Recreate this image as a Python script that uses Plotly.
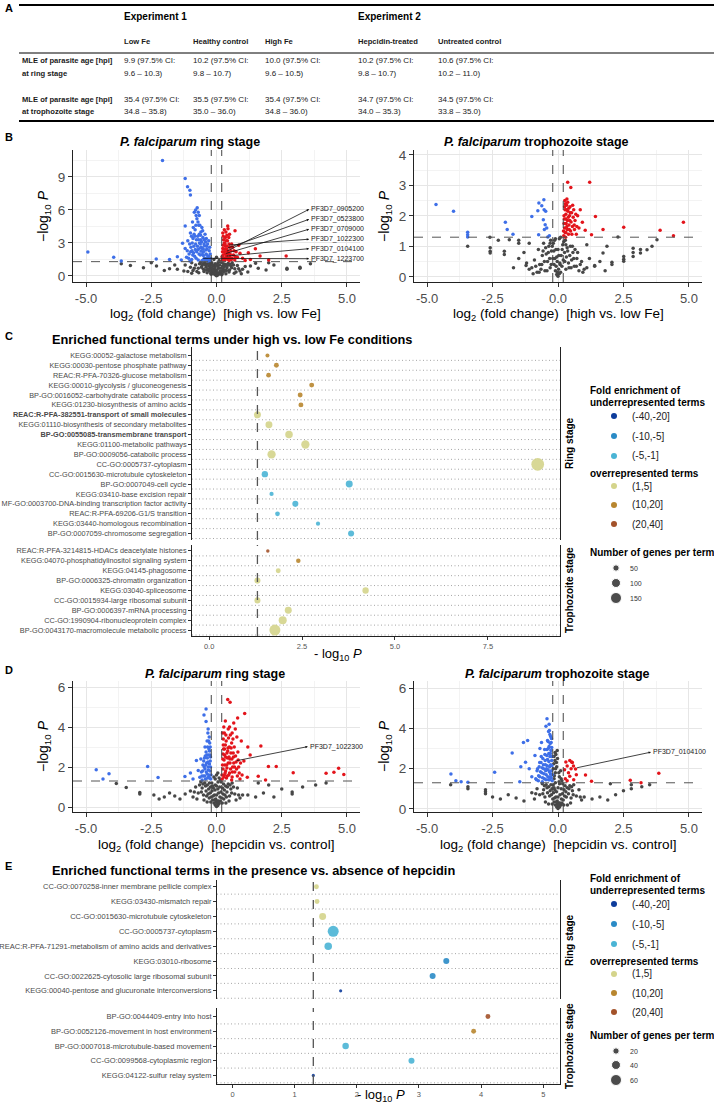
import plotly.graph_objects as go

W, H = 714, 1103
FONT = "Liberation Sans, Arial, Helvetica, sans-serif"

# ---------------- Panel A data ----------------
experiments = ["Experiment 1", "Experiment 2"]
conditions = ["Low Fe", "Healthy control", "High Fe", "Hepcidin-treated", "Untreated control"]
ring_mle = ["9.9", "10.2", "10.0", "10.2", "10.6"]
ring_ci = ["9.6 – 10.3", "9.8 – 10.7", "9.6 – 10.5", "9.8 – 10.7", "10.2 – 11.0"]
troph_mle = ["35.4", "35.5", "35.4", "34.7", "34.5"]
troph_ci = ["34.8 – 35.8", "35.0 – 36.0", "34.8 – 36.0", "34.0 – 35.3", "33.8 – 35.0"]

# ---------------- Volcano thresholds ----------------
FC_THRESH = 0.2
P_THRESH = 1.3

# ---------------- Panel B: Fe, ring stage ----------------
bring_blue = [(-0.25,1.4),(-0.3,1.8),(-0.28,2.3),(-0.35,1.5),(-0.4,2.0),(-0.38,2.7),(-0.45,1.6),(-0.42,3.1),
    (-0.5,2.2),(-0.48,2.9),(-0.55,1.4),(-0.52,3.5),(-0.58,2.6),(-0.6,4.0),(-0.62,1.9),(-0.65,3.0),(-0.68,4.6),
    (-0.7,2.4),(-0.72,3.6),(-0.75,5.2),(-0.78,1.6),(-0.8,2.9),(-0.82,4.2),(-0.85,5.8),(-0.88,2.1),(-0.9,3.4),
    (-0.92,4.9),(-0.95,1.5),(-0.98,2.6),(-1.0,3.9),(-1.05,2.0),(-1.1,3.2),(-1.15,1.7),(-1.2,2.5),(-0.32,1.35),
    (-0.36,2.45),(-0.44,3.8),(-0.56,4.4),(-0.66,5.5),(-0.74,6.2),(-0.8,6.0),(-0.6,3.3),(-0.7,1.45),(-0.86,3.8),
    (-0.94,2.3),(-1.02,1.35),(-0.5,1.85),(-0.4,1.55),(-0.62,2.9),(-0.76,2.2),(-0.66,3.8),(-0.54,2.5),(-0.84,1.8),
    (-0.22,1.6),(-0.24,2.0),(-0.26,2.6),(-0.3,3.2),(-0.33,1.7),(-0.34,2.9),(-0.37,1.9),(-0.39,3.4),(-0.41,2.35),
    (-0.43,1.45),(-0.46,2.75),(-0.47,3.3),(-0.49,1.55),(-0.51,2.45),(-0.53,4.1),(-0.54,1.95),(-0.57,3.1),
    (-0.59,2.25),(-0.61,3.7),(-0.63,2.55),(-0.64,4.6),(-0.67,2.0),(-0.69,3.3),(-0.71,4.9),(-0.73,2.7),(-0.77,3.3),
    (-0.79,4.6),(-0.81,2.4),(-0.83,3.6),(-0.87,2.7),(-0.89,4.4),(-0.91,1.9),(-0.93,3.0),(-0.96,3.6),(-0.99,2.2),
    (-1.03,2.9),(-1.07,1.6),(-1.12,2.3),(-0.7,5.8),(-0.78,5.5),
    (-2.07,10.5),(-1.2,8.85),(-1.11,8.1),(-1.02,7.8),(-1.0,7.36),(-1.2,4.55),(-1.3,2.97),(-2.31,1.55),
    (-3.94,1.7),(-4.93,2.18),(-3.65,1.36),(-1.8,1.5),(-1.5,1.75),(-1.35,1.45)]
bring_red = [(0.22,1.4),(0.25,1.9),(0.24,2.5),(0.28,1.6),(0.3,2.2),(0.3,3.0),(0.33,1.45),(0.35,2.7),(0.34,3.5),
    (0.38,1.8),(0.4,2.4),(0.42,3.2),(0.45,1.5),(0.46,2.0),(0.48,2.9),(0.5,3.8),(0.52,1.7),(0.55,2.3),(0.27,3.3),
    (0.36,4.0),(0.44,4.3),(0.6,1.6),(0.62,2.6),(0.65,1.9),(0.7,1.45),(0.75,2.2),(0.8,1.7),(0.26,1.65),(0.32,2.0),
    (0.39,2.25),(0.21,1.75),(0.23,2.2),(0.25,2.8),(0.26,3.6),(0.29,1.45),(0.31,2.45),(0.33,2.9),(0.35,1.6),
    (0.37,3.2),(0.39,1.95),(0.41,2.7),(0.43,1.65),(0.45,2.2),(0.47,3.5),(0.49,1.4),(0.51,2.6),(0.53,1.95),
    (0.57,1.5),(0.58,2.9),(0.67,2.3),(0.72,1.75),(0.24,3.9),(0.3,4.2),(0.4,3.7),
    (0.43,4.55),(0.71,4.12),(1.49,2.48),(2.67,1.82),(1.22,2.12),(1.67,1.82),(0.9,2.06),(1.0,1.6),
    (1.3,1.5),(2.0,1.45),(0.85,2.8),(1.1,1.4)]
bring_grey = [(0,0.02),(-0.05,0.1),(0.05,0.08),(-0.1,0.2),(0.1,0.18),(-0.15,0.35),(0.15,0.3),(-0.2,0.5),(0.2,0.45),
    (-0.25,0.7),(0.25,0.65),(-0.3,0.9),(0.3,0.85),(-0.35,1.1),(0.35,1.05),(-0.18,1.2),(0.18,1.25),(-0.08,0.6),
    (0.08,0.7),(-0.12,0.95),(0.12,1.0),(-0.4,0.8),(0.4,0.75),(-0.45,1.2),(0.45,1.15),(-0.5,0.6),(0.5,0.55),
    (-0.55,0.95),(0.55,0.9),(-0.6,1.25),(0.6,1.2),(-0.7,0.7),(0.7,0.65),(-0.8,1.0),(0.8,0.95),(-0.9,0.5),(0.9,0.45),
    (-0.03,0.4),(0.03,0.3),(-0.22,0.25),(0.22,0.2),(-0.28,0.45),(0.28,0.4),(-0.38,0.55),(0.38,0.5),(-0.05,1.1),
    (0.05,0.9),(-0.65,1.1),(0.65,1.0),(-0.75,0.4),(0.75,0.35),(-1.0,0.8),(1.0,0.6),(-1.1,0.4),(1.2,0.35),
    (-0.02,0.2),(0.02,0.15),(-0.07,0.3),(0.07,0.25),(-0.13,0.5),(0.13,0.45),(-0.17,0.75),(0.17,0.7),(-0.23,0.95),
    (0.23,0.9),(-0.27,1.15),(0.27,1.1),(-0.15,1.0),(0.15,1.3),(-0.32,0.6),(0.32,0.55),(-0.42,1.0),(0.42,0.95),
    (-0.48,0.4),(0.48,0.35),(-0.58,0.8),(0.58,0.75),(-0.68,0.3),(0.68,0.25),(-0.85,0.7),(0.85,0.65),(-0.06,0.8),
    (0.06,1.2),(-0.2,0.15),(0.2,0.1),(-0.36,0.3),(0.36,0.2),(0.0,0.55),(0.0,1.0),(-0.52,1.1),(0.52,1.05),
    (-1.2,1.0),(1.1,0.85),(-0.95,0.25),(0.95,0.2),
    (-0.1,1.5),(0.1,1.4),(0.0,1.7),(-3.65,1.1),(-3.3,0.95),(-2.8,0.75),(-2.3,0.9),(-2.0,0.5),(-1.8,0.65),
    (-1.5,0.6),(-1.25,0.45),(-1.6,1.0),(1.3,0.9),(1.6,0.7),(1.9,0.55),(2.2,1.0),(2.7,0.7),(3.2,0.8),(3.6,1.1),
    (2.0,1.2),(1.5,1.15),(-2.5,1.2),(-0.95,1.2),(3.2,0.7),(2.7,0.6)]
bring_labels = ["PF3D7_0905200", "PF3D7_0523800", "PF3D7_0709000", "PF3D7_1022300", "PF3D7_0104100", "PF3D7_1223700"]
bring_label_gene = [(0.35,2.2),(0.38,2.5),(0.3,2.0),(0.42,2.8),(0.33,1.8),(-0.57,1.6)]

# ---------------- Panel B: Fe, trophozoite stage ----------------
btro_blue = [(-4.66,2.37),(-3.99,2.15),(-3.45,1.46),(-3.45,1.38),(-3.45,1.31),(-2.01,1.79),(-1.94,1.55),
    (-1.72,1.40),(-1.0,1.98),(-0.77,2.17),(-0.73,2.42),(-0.62,2.33),(-0.53,2.20),(-0.54,2.53),(-0.47,2.15),
    (-0.56,1.87),(-0.49,1.71),(-0.43,1.60),(-0.52,1.55),(-0.33,1.35),(-0.39,1.31),(-0.74,1.38)]
btro_red = [(0.22,1.35),(0.25,1.6),(0.24,1.9),(0.27,2.2),(0.26,2.5),(0.3,1.45),(0.31,1.75),(0.3,2.05),(0.33,2.35),
    (0.35,1.55),(0.36,1.85),(0.38,2.15),(0.4,1.4),(0.42,1.7),(0.44,2.0),(0.46,2.3),(0.48,1.5),(0.5,1.8),(0.52,2.1),
    (0.55,1.65),(0.58,1.95),(0.6,2.2),(0.63,1.55),(0.28,2.4),(0.34,2.55),(0.65,1.85),(0.7,1.4),(0.75,2.0),(0.8,1.6),
    (0.23,2.0),(0.29,1.3),(0.21,1.5),(0.23,1.75),(0.25,2.3),(0.27,1.45),(0.29,1.9),(0.32,2.2),(0.34,1.65),
    (0.37,2.45),(0.39,1.95),(0.41,2.25),(0.43,1.55),(0.45,1.85),(0.47,2.1),(0.53,1.4),(0.56,2.35),(0.62,1.7),
    (0.68,2.05),(0.72,1.65),
    (0.37,3.1),(1.21,3.1),(0.49,2.93),(0.93,1.79),(1.43,1.98),(1.04,1.53),(1.72,1.55),
    (1.28,1.38),(2.51,1.63),(3.9,1.53),(4.79,1.79),(4.41,1.35),(0.85,2.2)]
btro_grey = [(0,0.02),(-0.05,0.08),(0.05,0.1),(-0.1,0.2),(0.1,0.15),(-0.15,0.4),(0.15,0.35),(-0.2,0.6),(0.2,0.55),
    (-0.25,0.85),(0.25,0.8),(-0.18,1.1),(0.18,1.05),(-0.1,1.25),(0.1,1.3),(-0.3,0.3),(0.3,0.25),(-0.4,0.5),(0.4,0.45),
    (-0.5,0.2),(0.5,0.3),(-0.6,0.7),(0.6,0.6),(-0.7,0.4),(0.7,0.35),(-0.8,0.15),(0.8,0.2),(-0.9,0.55),(0.9,0.5),
    (-1.0,0.3),(1.0,0.25),(-0.35,1.0),(0.35,0.95),(-0.45,0.75),(0.45,0.7),(-0.55,1.1),(0.55,1.0),(-0.65,0.25),
    (0.65,0.9),(-1.2,0.45),(1.2,0.6),(-1.3,0.8),(1.4,0.35),(-0.03,0.5),(0.03,0.7),(-0.08,0.9),(0.08,0.4),(-0.28,1.2),
    (0.28,1.2),(-0.75,0.9),(0.75,0.8),(-1.5,0.6),(1.6,0.5),(-1.1,1.1),(1.1,1.05),
    (-0.02,0.15),(0.02,0.25),(-0.07,0.35),(0.07,0.45),(-0.12,0.6),(0.12,0.7),(-0.16,0.85),(0.16,0.9),(-0.22,1.0),
    (0.22,1.15),(-0.13,1.2),(0.05,1.25),(-0.32,0.6),(0.32,0.65),(-0.42,0.2),(0.42,0.3),(-0.52,0.5),(0.52,0.55),
    (-0.62,0.4),(0.62,0.35),(-0.72,0.15),(0.72,0.6),(-0.85,0.35),(0.85,0.4),(-0.95,0.1),(0.95,0.15),(-1.1,0.25),
    (1.1,0.3),(-0.26,0.4),(0.26,0.5),(-0.37,0.8),(0.37,0.85),(-0.47,0.95),(0.47,1.0),(-0.57,0.85),(0.57,0.8),
    (-0.05,0.65),(0.0,0.9),(-0.3,1.1),(0.3,1.05),
    (-3.45,1.0),(-2.59,0.95),(-2.59,0.84),(-2.59,0.78),(-2.05,0.84),(-2.05,0.73),(-1.22,0.37),(1.4,0.37),
    (2.06,0.48),(2.06,0.4),(2.51,0.67),(2.51,0.58),(2.51,0.51),(2.87,0.94),(2.87,0.8),(2.87,0.67),(3.15,0.9),
    (3.15,0.78),(3.4,0.89),(3.59,1.0),(3.78,1.22),(2.29,1.31),(1.87,1.0),(1.72,0.78),(-2.28,1.2),(-1.86,1.22),
    (-1.5,1.2),(-1.5,1.1),(-2.6,1.3),(-1.7,0.3),(1.8,0.2)]

# ---------------- Panel D: hepcidin, ring stage ----------------
dring_blue = [(-0.22,1.4),(-0.25,1.8),(-0.24,2.3),(-0.27,2.8),(-0.26,3.2),(-0.3,1.5),(-0.32,2.0),(-0.31,2.6),
    (-0.34,3.0),(-0.36,1.65),(-0.38,2.2),(-0.4,2.75),(-0.42,1.4),(-0.44,1.9),(-0.46,2.45),(-0.5,1.55),(-0.52,2.1),
    (-0.55,1.35),(-0.58,1.75),(-0.6,2.4),(-0.28,3.5),(-0.4,4.27),(-0.48,4.6),(-0.4,4.9),(-0.33,3.7),(-0.29,1.6),
    (-0.35,2.45),(-0.23,2.0),(-0.25,2.6),(-0.21,1.6),(-0.23,2.5),(-0.24,3.0),(-0.26,1.45),(-0.27,2.15),
    (-0.29,2.9),(-0.3,3.3),(-0.31,1.85),(-0.33,2.25),(-0.34,1.45),(-0.37,2.6),(-0.39,1.75),(-0.41,2.1),
    (-0.43,2.55),(-0.45,1.55),(-0.47,2.0),(-0.49,2.3),(-0.53,1.8),(-0.56,1.55),(-0.32,3.9),(-0.36,3.3),(-0.44,3.0),
    (-4.61,1.86),(-4.12,1.66),(-4.35,1.4),(-2.64,2.03),(-2.24,1.47),
    (-1.21,1.52),(-0.77,2.33),(-0.7,1.83),(-0.64,1.49),(-0.9,1.4),(-1.0,1.7)]
dring_red = [(0.22,1.4),(0.25,1.9),(0.24,2.4),(0.27,2.9),(0.26,3.4),(0.3,1.6),(0.32,2.1),(0.31,2.6),(0.34,3.1),
    (0.36,3.6),(0.38,1.45),(0.4,1.95),(0.42,2.45),(0.44,2.95),(0.46,3.45),(0.5,1.7),(0.52,2.2),(0.55,2.7),(0.58,3.2),
    (0.6,1.5),(0.62,2.0),(0.65,2.5),(0.68,3.0),(0.7,1.75),(0.72,3.9),(0.75,2.25),(0.8,1.55),(0.82,2.75),(0.85,2.0),
    (0.9,1.4),(0.95,3.3),(0.28,4.0),(0.35,1.8),(0.48,2.5),(0.58,1.35),(0.66,2.2),(0.3,3.7),(0.4,2.7),(0.53,3.6),
    (0.78,3.5),(0.21,1.6),(0.23,2.1),(0.25,2.65),(0.26,3.1),(0.28,1.5),(0.29,2.35),(0.31,2.9),(0.33,1.7),
    (0.35,2.5),(0.37,3.3),(0.39,2.1),(0.41,1.55),(0.43,2.8),(0.45,2.2),(0.47,1.6),(0.49,3.0),(0.51,2.4),
    (0.54,1.9),(0.56,2.95),(0.59,2.4),(0.61,1.75),(0.63,3.4),(0.64,2.7),(0.69,2.0),(0.73,2.55),(0.77,1.9),
    (0.83,2.35),(0.87,1.7),(0.92,2.2),(0.98,1.6),(0.23,3.7),(0.34,4.3),(0.5,4.0),(0.6,3.7),(0.45,3.9),
    (0.43,5.37),(0.52,5.24),(1.08,4.67),(0.81,4.45),(0.66,4.2),(1.7,3.05),(1.29,2.6),(1.99,2.03),
    (2.29,2.03),(2.94,1.71),(4.2,1.69),(4.5,1.74),(4.68,1.94),(4.88,1.62),(1.18,1.49),(1.6,1.54),(1.88,1.35),
    (1.05,2.3),(1.2,3.0)]
dring_grey = [(0,0.02),(-0.05,0.1),(0.05,0.08),(-0.1,0.2),(0.1,0.18),(-0.15,0.35),(0.15,0.3),(-0.2,0.5),(0.2,0.45),
    (-0.25,0.7),(0.25,0.65),(-0.3,0.9),(0.3,0.85),(-0.35,1.1),(0.35,1.05),(-0.18,1.2),(0.18,1.25),(-0.08,0.6),
    (0.08,0.7),(-0.12,0.95),(0.12,1.0),(-0.4,0.8),(0.4,0.75),(-0.45,1.2),(0.45,1.15),(-0.5,0.6),(0.5,0.55),
    (-0.55,0.95),(0.55,0.9),(-0.6,1.25),(0.6,1.2),(-0.7,0.7),(0.7,0.65),(-0.8,1.0),(0.8,0.95),(-0.9,0.5),(0.9,0.45),
    (-0.03,0.4),(0.03,0.3),(-0.22,0.25),(0.22,0.2),(-0.28,0.45),(0.28,0.4),(-0.38,0.55),(0.38,0.5),(-0.05,1.1),
    (0.05,0.9),(-0.65,1.1),(0.65,1.0),(-0.75,0.4),(0.75,0.35),(-1.0,0.8),(1.0,0.6),(-0.1,1.5),(0.1,1.45),(0.0,1.6),
    (-0.02,0.25),(0.02,0.2),(-0.07,0.35),(0.07,0.3),(-0.13,0.55),(0.13,0.5),(-0.17,0.8),(0.17,0.75),(-0.23,1.0),
    (0.23,0.95),(-0.27,1.2),(0.27,1.15),(-0.15,1.05),(0.15,1.35),(-0.32,0.65),(0.32,0.6),(-0.42,1.05),(0.42,1.0),
    (-0.48,0.35),(0.48,0.3),(-0.58,0.75),(0.58,0.7),(-0.85,0.75),(0.85,0.6),(-0.06,0.85),(0.06,1.25),
    (-0.36,0.25),(0.36,0.2),(0.0,0.6),(0.0,1.05),(-0.52,1.15),(0.52,1.1),(-0.05,1.4),(0.05,1.7),
    (-3.84,1.18),(-3.46,0.98),(-2.94,0.73),(-2.94,0.65),(-2.4,0.6),(-2.2,0.4),(-2.0,0.5),(-1.8,0.7),(-1.6,0.55),
    (-1.4,0.4),(-1.2,0.65),(1.2,0.6),(1.5,0.5),(1.8,0.7),(2.2,0.5),(2.5,0.9),(2.9,0.75),(2.9,0.65),(3.3,1.0),
    (3.8,1.1),(4.2,1.2),(2.0,1.1),(1.6,1.2)]
dring_labels = ["PF3D7_1022300"]
dring_label_gene = [(0.71,2.3)]

# ---------------- Panel D: hepcidin, trophozoite stage ----------------
dtro_blue = [(-0.22,1.4),(-0.25,1.9),(-0.24,2.4),(-0.27,2.9),(-0.26,3.3),(-0.3,1.6),(-0.32,2.1),(-0.31,2.6),
    (-0.34,3.1),(-0.36,1.45),(-0.38,1.95),(-0.4,2.45),(-0.42,2.95),(-0.45,1.7),(-0.48,2.2),(-0.5,2.7),(-0.52,1.5),
    (-0.55,2.0),(-0.58,2.5),(-0.6,1.35),(-0.62,1.8),(-0.65,2.3),(-0.7,1.6),(-0.72,2.1),(-0.75,1.4),(-0.8,1.9),
    (-0.85,1.5),(-0.28,3.6),(-0.33,3.9),(-0.35,2.75),(-0.44,2.0),(-0.29,1.75),(-0.23,2.15),(-0.38,3.35),
    (-0.21,1.7),(-0.23,2.6),(-0.24,3.05),(-0.26,1.55),(-0.28,2.2),(-0.29,2.75),(-0.3,3.25),(-0.32,1.45),
    (-0.33,1.85),(-0.35,2.35),(-0.37,3.0),(-0.39,1.6),(-0.41,2.15),(-0.43,2.65),(-0.46,1.45),(-0.47,1.9),
    (-0.49,2.4),(-0.51,2.95),(-0.54,1.75),(-0.56,2.2),(-0.59,1.55),(-0.61,2.05),(-0.64,2.6),(-0.67,1.85),
    (-0.7,2.3),(-0.74,1.65),(-0.78,2.0),(-0.82,1.45),(-0.25,3.5),(-0.31,3.7),(-0.4,3.4),(-0.34,4.2),
    (-0.42,4.48),(-0.46,4.1),(-0.36,3.85),(-1.32,3.3),(-1.16,3.4),(-1.75,2.78),(-0.88,2.65),(-1.24,2.32),
    (-1.42,2.1),(-2.42,1.82),(-4.09,1.73),(-3.9,1.4),(-3.7,1.35),(-3.44,1.32),(-1.46,1.35),(-0.69,3.0),
    (-0.63,3.3),(-1.0,1.6),(-1.1,2.0)]
dtro_red = [(0.25,1.95),(0.3,2.33),(0.35,2.13),(0.4,1.8),(0.45,1.63),(0.28,1.5),(0.5,2.0),(0.55,2.3),(0.6,1.45),
    (0.67,1.98),(0.52,2.33),(0.59,2.13),(1.05,1.68),(1.28,1.38),(2.76,1.43),(3.17,1.3),(3.85,1.77),(0.35,1.4),
    (0.7,1.7),(0.45,2.4)]
dtro_grey = [(0,0.02),(-0.05,0.1),(0.05,0.08),(-0.1,0.2),(0.1,0.18),(-0.15,0.35),(0.15,0.3),(-0.2,0.5),(0.2,0.45),
    (-0.25,0.7),(0.25,0.65),(-0.3,0.9),(0.3,0.85),(-0.35,1.1),(0.35,1.05),(-0.18,1.2),(0.18,1.25),(-0.08,0.6),
    (0.08,0.7),(-0.12,0.95),(0.12,1.0),(-0.4,0.8),(0.4,0.75),(-0.45,1.2),(0.45,1.15),(-0.5,0.6),(0.5,0.55),
    (-0.55,0.95),(0.55,0.9),(-0.6,1.25),(0.6,1.2),(-0.7,0.7),(0.7,0.65),(-0.8,1.0),(0.8,0.95),(-0.9,0.5),(0.9,0.45),
    (-0.03,0.4),(0.03,0.3),(-0.22,0.25),(0.22,0.2),(-1.0,0.8),(1.0,0.6),(-0.15,1.5),(-0.1,1.8),(-0.05,2.1),
    (-0.12,2.4),(-0.08,2.7),(-0.03,2.9),(0.05,1.6),(0.1,1.9),(0.15,1.4),(-0.18,2.0),(0.12,1.5),(-0.15,2.6),
    (-0.06,2.3),(0.04,1.35),(-0.02,0.25),(0.02,0.2),(-0.07,0.35),(0.07,0.3),(-0.13,0.55),(0.13,0.5),(-0.17,0.8),
    (0.17,0.75),(-0.23,1.0),(0.23,0.95),(-0.27,1.2),(0.27,1.15),(-0.15,1.05),(-0.32,0.65),(0.32,0.6),
    (-0.42,1.05),(0.42,1.0),(-0.48,0.35),(0.48,0.3),(-0.58,0.75),(0.58,0.7),(-0.85,0.75),(0.85,0.6),
    (-0.06,0.85),(0.06,1.25),(-0.36,0.25),(0.36,0.2),(0.0,0.6),(0.0,1.05),(-0.52,1.15),(0.52,1.1),(-0.1,1.3),
    (-0.14,1.65),(-0.09,2.0),(0.03,1.8),(-0.02,2.5),(-0.16,2.25),(-0.11,2.8),
    (-2.77,0.95),(-2.77,0.85),(-2.77,0.75),(-2.5,0.6),(-2.2,0.5),(-1.9,0.7),(-1.6,0.55),
    (-1.3,0.4),(-3.44,1.1),(-3.44,1.0),(-4.1,1.2),(1.3,0.5),(1.6,0.6),(1.9,0.45),(2.2,0.7),(2.5,0.9),(2.8,1.0),
    (2.8,1.2),(3.2,1.1),(3.5,1.2),(2.0,1.25)]
dtro_labels = ["PF3D7_0104100"]
dtro_label_gene = [(0.67,2.03)]

# ---------------- Panel C: enrichment, high vs low Fe ----------------
c_ring_terms = ["KEGG:00052-galactose metabolism", "KEGG:00030-pentose phosphate pathway",
    "REAC:R-PFA-70326-glucose metabolism", "KEGG:00010-glycolysis / gluconeogenesis",
    "BP-GO:0016052-carbohydrate catabolic process", "KEGG:01230-biosynthesis of amino acids",
    "REAC:R-PFA-382551-transport of small molecules", "KEGG:01110-biosynthesis of secondary metabolites",
    "BP-GO:0055085-transmembrane transport", "KEGG:01100-metabolic pathways", "BP-GO:0009056-catabolic process",
    "CC-GO:0005737-cytoplasm", "CC-GO:0015630-microtubule cytoskeleton", "BP-GO:0007049-cell cycle",
    "KEGG:03410-base excision repair", "MF-GO:0003700-DNA-binding transcription factor activity",
    "REAC:R-PFA-69206-G1/S transition", "KEGG:03440-homologous recombination",
    "BP-GO:0007059-chromosome segregation"]
c_ring_bold = ["REAC:R-PFA-382551-transport of small molecules", "BP-GO:0055085-transmembrane transport"]
c_ring_logp = [1.57, 1.81, 1.60, 2.76, 2.45, 2.47, 1.30, 1.61, 2.15, 2.59, 1.68, 8.84, 1.50, 3.77, 1.68, 2.32, 1.84, 2.93, 3.82]
c_ring_fold = ["(10,20]"] * 6 + ["(1,5]"] * 6 + ["(-5,-1]"] * 7
c_ring_genes = [20, 30, 28, 30, 30, 30, 60, 60, 70, 85, 85, 200, 50, 60, 22, 45, 28, 22, 45]

c_tro_terms = ["REAC:R-PFA-3214815-HDACs deacetylate histones", "KEGG:04070-phosphatidylinositol signaling system",
    "KEGG:04145-phagosome", "BP-GO:0006325-chromatin organization", "KEGG:03040-spliceosome",
    "CC-GO:0015934-large ribosomal subunit", "BP-GO:0006397-mRNA processing",
    "CC-GO:1990904-ribonucleoprotein complex", "BP-GO:0043170-macromolecule metabolic process"]
c_tro_logp = [1.58, 2.40, 1.86, 1.30, 4.21, 1.30, 2.13, 1.98, 1.77]
c_tro_fold = ["(20,40]", "(10,20]", "(1,5]", "(1,5]", "(1,5]", "(1,5]", "(1,5]", "(1,5]", "(1,5]"]
c_tro_genes = [15, 25, 30, 45, 50, 45, 60, 80, 150]

# ---------------- Panel E: enrichment, hepcidin ----------------
e_ring_terms = ["CC-GO:0070258-inner membrane pellicle complex", "KEGG:03430-mismatch repair",
    "CC-GO:0015630-microtubule cytoskeleton", "CC-GO:0005737-cytoplasm",
    "REAC:R-PFA-71291-metabolism of amino acids and derivatives", "KEGG:03010-ribosome",
    "CC-GO:0022625-cytosolic large ribosomal subunit", "KEGG:00040-pentose and glucuronate interconversions"]
e_ring_logp = [1.35, 1.36, 1.45, 1.62, 1.54, 3.44, 3.22, 1.74]
e_ring_fold = ["(1,5]", "(1,5]", "(1,5]", "(-5,-1]", "(-5,-1]", "(-10,-5]", "(-10,-5]", "(-40,-20]"]
e_ring_genes = [12, 12, 24, 60, 28, 18, 18, 5]

e_tro_terms = ["BP-GO:0044409-entry into host", "BP-GO:0052126-movement in host environment",
    "BP-GO:0007018-microtubule-based movement", "CC-GO:0099568-cytoplasmic region",
    "KEGG:04122-sulfur relay system"]
e_tro_logp = [4.11, 3.88, 1.82, 2.88, 1.30]
e_tro_fold = ["(20,40]", "(10,20]", "(-5,-1]", "(-5,-1]", "(-40,-20]"]
e_tro_genes = [12, 12, 21, 18, 5]

fold_levels_under = ["(-40,-20]", "(-10,-5]", "(-5,-1]"]
fold_levels_over = ["(1,5]", "(10,20]", "(20,40]"]
fold_colors = {"(-40,-20]": "#0d3c9b", "(-10,-5]": "#2a8bc6", "(-5,-1]": "#4ab4d5",
               "(1,5]": "#d4d48b", "(10,20]": "#b8862f", "(20,40]": "#a3522a"}
c_size_breaks = [50, 100, 150]
e_size_breaks = [20, 40, 60]

# ================= Figure =================
fig = go.Figure()
shapes = []
annotations = []


def fx(p):
    return p / W


def fy(p):
    return 1 - p / H


def ann(text, x, y, size=10, color="#000", xanchor="left", yanchor="middle", angle=0, bold=False):
    if bold:
        text = "<b>" + text + "</b>"
    annotations.append(dict(text=text, x=fx(x), y=fy(y), xref="paper", yref="paper", showarrow=False,
                            xanchor=xanchor, yanchor=yanchor, textangle=angle,
                            font=dict(size=size, color=color, family=FONT)))


def hline_px(x0, x1, y, w=1, color="#000"):
    shapes.append(dict(type="line", xref="paper", yref="paper", x0=fx(x0), x1=fx(x1), y0=fy(y), y1=fy(y),
                       line=dict(color=color, width=w)))


# ---------- Panel A table ----------
ann("A", 3, 8, size=11, bold=True)
hline_px(19, 714, 5, w=2)
hline_px(19, 714, 53, w=1)
hline_px(19, 714, 121, w=2)
col_x = [122, 191, 263, 356, 436]
ann(experiments[0], col_x[0], 17, size=10, bold=True)
ann(experiments[1], col_x[3], 17, size=10, bold=True)
for cx, c in zip(col_x, conditions):
    ann(c, cx, 41, size=7.6, bold=True, color="#1a1a1a")
ann("MLE of parasite age [hpi]", 20, 61, size=7.6, bold=True, color="#1a1a1a")
ann("at ring stage", 20, 73, size=7.6, bold=True, color="#1a1a1a")
ann("MLE of parasite age [hpi]", 20, 99, size=7.6, bold=True, color="#1a1a1a")
ann("at trophozoite stage", 20, 111, size=7.6, bold=True, color="#1a1a1a")
for cx, m, ci in zip(col_x, ring_mle, ring_ci):
    ann(m + " (97.5% CI:", cx, 61, size=8, color="#1a1a1a")
    ann(ci + ")", cx, 73, size=8, color="#1a1a1a")
for cx, m, ci in zip(col_x, troph_mle, troph_ci):
    ann(m + " (97.5% CI:", cx, 99, size=8, color="#1a1a1a")
    ann(ci + ")", cx, 111, size=8, color="#1a1a1a")

# ---------- Volcano helpers ----------
GRID = "#e6e6e6"
GRID_MINOR = "#f3f3f3"


def volcano(n, xpx, ypx, yr, yticks, yminor, grey, blue, red, labels=None, label_genes=None, label_y=None, label_x=3.55):
    xs = "" if n == 1 else str(n)
    xa = dict(domain=[fx(xpx[0]), fx(xpx[1])], range=[-5.5, 5.5], anchor="y" + xs, automargin=False,
              tickmode="array", tickvals=[-5, -2.5, 0, 2.5, 5], ticktext=["-5.0", "-2.5", "0.0", "2.5", "5.0"],
              showgrid=True, gridcolor=GRID, gridwidth=1.1, zeroline=False,
              minor=dict(tickmode="array", tickvals=[-3.75, -1.25, 1.25, 3.75], showgrid=True,
                         gridcolor=GRID_MINOR, gridwidth=0.8),
              showline=True, linecolor="#222", linewidth=1.3, ticks="outside", ticklen=4, tickcolor="#333",
              tickfont=dict(size=13, color="#4d4d4d", family=FONT))
    ya = dict(domain=[fy(ypx[1]), fy(ypx[0])], range=yr, anchor="x" + xs, automargin=False,
              tickmode="array", tickvals=yticks, ticktext=[str(t) for t in yticks],
              showgrid=True, gridcolor=GRID, gridwidth=1.1, zeroline=False,
              minor=dict(tickmode="array", tickvals=yminor, showgrid=True, gridcolor=GRID_MINOR, gridwidth=0.8),
              showline=True, linecolor="#222", linewidth=1.3, ticks="outside", ticklen=4, tickcolor="#333",
              tickfont=dict(size=13.5, color="#4d4d4d", family=FONT))
    fig.update_layout(**{"xaxis" + xs: xa, "yaxis" + xs: ya})
    for pts, col in [(grey, "#474747"), (blue, "#3e6fe8"), (red, "#e3141b")]:
        fig.add_trace(go.Scatter(x=[p[0] for p in pts], y=[p[1] for p in pts], mode="markers",
                                 marker=dict(size=3.5, color=col, line=dict(width=0)),
                                 xaxis="x" + xs, yaxis="y" + xs, showlegend=False, hoverinfo="skip"))
    for xv in (-FC_THRESH, FC_THRESH):
        shapes.append(dict(type="line", xref="x" + xs, yref="y" + xs + " domain", x0=xv, x1=xv, y0=0, y1=1,
                           line=dict(color="#444", width=1, dash="dash")))
    shapes.append(dict(type="line", xref="x" + xs + " domain", yref="y" + xs, x0=0, x1=1, y0=P_THRESH, y1=P_THRESH,
                       line=dict(color="#555", width=1, dash="dash")))
    if labels:
        for lab, g, ly in zip(labels, label_genes, label_y):
            annotations.append(dict(text="", x=label_x, y=ly, xref="x" + xs, yref="y" + xs,
                                    ax=g[0], ay=g[1], axref="x" + xs, ayref="y" + xs, showarrow=True,
                                    arrowhead=2, arrowsize=0.6, arrowwidth=0.8, arrowcolor="#111",
                                    font=dict(size=7)))
            annotations.append(dict(text=lab, x=label_x, y=ly, xref="x" + xs, yref="y" + xs, showarrow=False,
                                    xanchor="left", yanchor="middle", font=dict(size=7, color="#222", family=FONT)))


ylab = "\u2212log<sub>10</sub> <i>P</i>"
# Panel B
ann("B", 3, 137, size=11, bold=True)
ann("<i>P. falciparum</i> ring stage", 190, 142, size=12.5, bold=True, xanchor="center")
ann("<i>P. falciparum</i> trophozoite stage", 536, 142, size=12.5, bold=True, xanchor="center")
volcano(1, (73, 360), (150, 282), [-0.55, 11.45], [0, 3, 6, 9], [1.5, 4.5, 7.5, 10.5],
        bring_grey, bring_blue, bring_red, bring_labels, bring_label_gene, [6.06, 5.15, 4.25, 3.34, 2.48, 1.57])
volcano(2, (414, 702), (150, 282), [-0.17, 4.16], [0, 1, 2, 3, 4], [0.5, 1.5, 2.5, 3.5],
        btro_grey, btro_blue, btro_red)
ann(ylab, 44, 216, size=14, xanchor="center", angle=-90)
ann(ylab, 385, 216, size=14, xanchor="center", angle=-90)
ann("log<sub>2</sub> (fold change)  [high vs. low Fe]", 216, 314, size=13.5, xanchor="center")
ann("log<sub>2</sub> (fold change)  [high vs. low Fe]", 558, 314, size=13.5, xanchor="center")

# Panel D
ann("D", 3, 670, size=11, bold=True)
ann("<i>P. falciparum</i> ring stage", 215, 674, size=12.5, bold=True, xanchor="center")
ann("<i>P. falciparum</i> trophozoite stage", 557, 674, size=12.5, bold=True, xanchor="center")
volcano(5, (73, 360), (681, 812), [-0.25, 6.3], [0, 2, 4, 6], [1, 3, 5],
        dring_grey, dring_blue, dring_red, dring_labels, dring_label_gene, [3.02], label_x=3.5)
volcano(6, (414, 702), (681, 812), [-0.15, 6.35], [0, 2, 4, 6], [1, 3, 5],
        dtro_grey, dtro_blue, dtro_red, dtro_labels, dtro_label_gene, [2.82], label_x=3.55)
ann(ylab, 44, 746, size=14, xanchor="center", angle=-90)
ann(ylab, 385, 746, size=14, xanchor="center", angle=-90)
ann("log<sub>2</sub> (fold change)  [hepcidin vs. control]", 216, 845, size=13.5, xanchor="center")
ann("log<sub>2</sub> (fold change)  [hepcidin vs. control]", 558, 845, size=13.5, xanchor="center")


# ---------- Enrichment dot plots ----------
def dotplot(n, xpx, ypx, yr, xr, xticks, xticktext, terms, logp, fold, genes, scale, show_x, fsize, bold_terms=()):
    xs = str(n)
    ticktext = [("<b>" + t + "</b>" if t in bold_terms else t) for t in terms]
    xa = dict(domain=[fx(xpx[0]), fx(xpx[1])], range=xr, anchor="y" + xs, showgrid=False, zeroline=False,
              automargin=False, tickmode="array", tickvals=xticks, ticktext=xticktext, showticklabels=show_x,
              showline=show_x, linecolor="#222", linewidth=1, ticks="outside" if show_x else "",
              ticklen=3, tickcolor="#333", tickfont=dict(size=7.5, color="#555", family=FONT))
    ya = dict(domain=[fy(ypx[1]), fy(ypx[0])], range=yr, anchor="x" + xs, showgrid=False, zeroline=False,
              automargin=False, tickmode="array", tickvals=list(range(len(terms))), ticktext=ticktext,
              showline=True, mirror=True, linecolor="#222", linewidth=1, ticks="outside", ticklen=3,
              tickcolor="#333", tickfont=dict(size=fsize, color="#4a4a4a", family=FONT))
    fig.update_layout(**{"xaxis" + xs: xa, "yaxis" + xs: ya})
    for i in range(len(terms)):
        shapes.append(dict(type="line", xref="x" + xs + " domain", yref="y" + xs, x0=0, x1=1, y0=i + 0.5,
                           y1=i + 0.5, line=dict(color="#9c9c9c", width=0.9, dash="1px,2.5px"), layer="below"))
    shapes.append(dict(type="line", xref="x" + xs, yref="y" + xs + " domain", x0=P_THRESH, x1=P_THRESH, y0=0, y1=1,
                       line=dict(color="#555", width=1.3, dash="dash")))
    fig.add_trace(go.Scatter(x=logp, y=list(range(len(terms))), mode="markers",
                             marker=dict(size=[scale * g ** 0.5 for g in genes],
                                         color=[fold_colors[f] for f in fold], opacity=0.9, line=dict(width=0)),
                             xaxis="x" + xs, yaxis="y" + xs, showlegend=False, hoverinfo="skip"))


# Panel C
ann("C", 3, 336, size=11, bold=True)
ann("Enriched functional terms under high vs. low Fe conditions", 50, 339, size=12.8, bold=True)
dotplot(3, (192, 560), (347, 540), [18.65, -0.85], [-0.46, 9.44], [0, 2.5, 5, 7.5], ["0.0", "2.5", "5.0", "7.5"],
        c_ring_terms, c_ring_logp, c_ring_fold, c_ring_genes, 0.9, False, 7.3, c_ring_bold)
dotplot(4, (192, 560), (545, 636), [8.6, -0.6], [-0.46, 9.44], [0, 2.5, 5, 7.5], ["0.0", "2.5", "5.0", "7.5"],
        c_tro_terms, c_tro_logp, c_tro_fold, c_tro_genes, 0.9, True, 7.3)
ann("- log<sub>10</sub> <i>P</i>", 338, 654, size=13, xanchor="center")
ann("Ring stage", 569, 443, size=10, bold=True, xanchor="center", angle=-90)
ann("Trophozoite stage", 569, 590, size=10, bold=True, xanchor="center", angle=-90)

# Panel E
ann("E", 3, 866, size=11, bold=True)
ann("Enriched functional terms in the presence vs. absence of hepcidin", 50, 870, size=12.8, bold=True)
dotplot(7, (217, 560), (880, 999), [7.55, -0.45], [-0.25, 5.27], [0, 1, 2, 3, 4, 5], ["0", "1", "2", "3", "4", "5"],
        e_ring_terms, e_ring_logp, e_ring_fold, e_ring_genes, 1.42, False, 7.5)
dotplot(8, (217, 560), (1008, 1084), [4.58, -0.58], [-0.25, 5.27], [0, 1, 2, 3, 4, 5], ["0", "1", "2", "3", "4", "5"],
        e_tro_terms, e_tro_logp, e_tro_fold, e_tro_genes, 1.42, True, 7.5)
ann("- log<sub>10</sub> <i>P</i>", 381, 1095, size=13, xanchor="center")
ann("Ring stage", 569, 940, size=10, bold=True, xanchor="center", angle=-90)
ann("Trophozoite stage", 569, 1046, size=10, bold=True, xanchor="center", angle=-90)

# ---------- Legends (pixel overlay axis) ----------
fig.update_layout(xaxis9=dict(domain=[0, 1], range=[0, W], visible=False, fixedrange=True, anchor="y9",
                              automargin=False),
                  yaxis9=dict(domain=[0, 1], range=[H, 0], visible=False, fixedrange=True, anchor="x9",
                              automargin=False))


def legend_block(top, size_breaks, scale, step_under, size_ys):
    ann("Fold enrichment of", 588, top, size=10, bold=True)
    ann("underrepresented terms", 588, top + 12.5, size=10, bold=True)
    ys = [top + 26 + k * step_under for k in range(3)]
    ann("overrepresented terms", 588, top + 26 + 3 * step_under - 3, size=10, bold=True)
    ys2 = [top + 26 + 3 * step_under + 10 + k * 19 for k in range(3)]
    fig.add_trace(go.Scatter(x=[614] * 6, y=ys + ys2, mode="markers",
                             marker=dict(size=6, color=[fold_colors[f] for f in fold_levels_under + fold_levels_over]),
                             xaxis="x9", yaxis="y9", showlegend=False, hoverinfo="skip"))
    for y, lab in zip(ys + ys2, fold_levels_under + fold_levels_over):
        ann(lab, 630, y, size=10, color="#222")
    ann("Number of genes per term", 588, size_ys[0] - 16, size=10, bold=True)
    fig.add_trace(go.Scatter(x=[616] * 3, y=size_ys, mode="markers",
                             marker=dict(size=[scale * s ** 0.5 for s in size_breaks], color="#000"),
                             xaxis="x9", yaxis="y9", showlegend=False, hoverinfo="skip"))
    for y, s in zip(size_ys, size_breaks):
        ann(str(s), 628, y, size=7, color="#333")


legend_block(390, c_size_breaks, 0.9, 20, [568, 583, 598])
legend_block(878, e_size_breaks, 1.42, 20, [1051, 1065, 1080])

fig.update_layout(width=W, height=H, margin=dict(l=0, r=0, t=0, b=0, autoexpand=False), paper_bgcolor="white",
                  plot_bgcolor="rgba(0,0,0,0)", shapes=shapes, annotations=annotations,
                  font=dict(family=FONT), showlegend=False)
fig.write_html("out.html", config={"displayModeBar": False},
               post_script="document.body.style.margin='0px';document.body.style.padding='0px';"
                           "document.body.style.overflow='hidden';")
